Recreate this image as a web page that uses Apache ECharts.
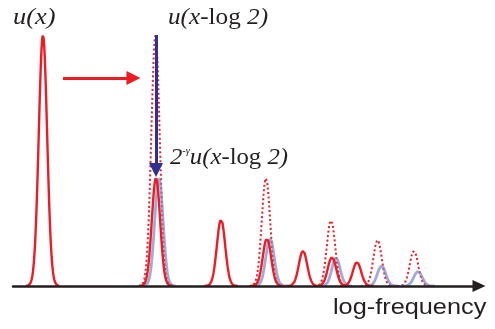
<!DOCTYPE html>
<html>
<head>
<meta charset="utf-8">
<script src="https://cdn.jsdelivr.net/npm/echarts@6/dist/echarts.min.js"></script>
<style>
  html, body { margin: 0; padding: 0; background: #fff; }
  #chart { width: 495px; height: 329px; }
</style>
</head>
<body>
<div id="chart"></div>
<script>
// peak centres (log-frequency) and heights
const harmonicPos = [0, 0.702, 1.106, 1.391, 1.615, 1.795, 1.95];
const harmonicAmp = [1.0, 0.43, 0.265, 0.19, 0.14, 0.115, 0.095];
const shiftedPos = [0.699, 1.385, 1.789, 2.078, 2.304];
const shiftedAmp = [1.0, 0.43, 0.263, 0.183, 0.141];
const scaledPos = [0.72, 1.41, 1.82, 2.103, 2.329];
const scaledAmp = [0.43, 0.19, 0.112, 0.08, 0.058];
const peakWidth = 0.026;

// annotation arrows [x0, y0, x1, y1]
const shiftArrow = [0.124, 0.829, 0.562, 0.829];
const scaleArrow = [0.702, 1.0, 0.702, 0.462];

const RED = "#ed1c24";
const NAVY = "#2e3192";
const BLUE = "rgba(128, 134, 200, 0.72)";

// each peak is drawn as a bell shape, broken apart by nulls
const peakLine = (centres, amps) => {
  const pts = [];
  centres.forEach((c, i) => {
    for (let x = c - 4 * peakWidth; x <= c + 4 * peakWidth + 1e-9; x += 0.002) {
      const d = (x - c) / peakWidth;
      pts.push([x, amps[i] * Math.exp(-0.5 * d * d)]);
    }
    pts.push([c + 4 * peakWidth + 0.001, null]);
  });
  return pts;
};

const arrowSeries = (coords, color) => ({
  type: "line",
  data: [],
  z: 6,
  markLine: {
    silent: true,
    animation: false,
    symbol: ["none", "triangle"],
    symbolSize: [14, 14],
    label: { show: false },
    itemStyle: { color },
    lineStyle: { color, width: 3, type: "solid" },
    data: [[{ coord: [coords[0], coords[1]] }, { coord: [coords[2], coords[3]] }]],
  },
});

const chart = echarts.init(document.getElementById("chart"));

const serif = '"Liberation Serif", "DejaVu Serif", serif';

chart.setOption({
  animation: false,
  grid: { left: 13, right: 16, top: 35, bottom: 43 },
  xAxis: {
    type: "value",
    min: -0.186,
    max: 2.708,
    z: 5,
    axisLine: {
      symbol: ["none", "triangle"],
      symbolSize: [12, 13],
      lineStyle: { color: "#231f20", width: 2.5 },
    },
    axisTick: { show: false },
    axisLabel: { show: false },
    splitLine: { show: false },
  },
  yAxis: { type: "value", min: 0, max: 1, show: false },
  series: [
    {
      name: "u(x-log 2)",
      type: "line",
      data: peakLine(shiftedPos, shiftedAmp),
      showSymbol: false,
      connectNulls: false,
      z: 2,
      lineStyle: { color: RED, width: 2, type: [2, 2.5] },
    },
    {
      name: "2^-γ u(x-log 2)",
      type: "line",
      data: peakLine(scaledPos, scaledAmp),
      showSymbol: false,
      connectNulls: false,
      z: 3,
      lineStyle: { color: BLUE, width: 2.8 },
    },
    {
      name: "u(x)",
      type: "line",
      data: peakLine(harmonicPos, harmonicAmp),
      showSymbol: false,
      connectNulls: false,
      z: 4,
      lineStyle: { color: RED, width: 2.4 },
    },
    arrowSeries(shiftArrow, RED),
    arrowSeries(scaleArrow, NAVY),
  ],
  graphic: [
    {
      type: "text",
      left: 13,
      top: 6,
      scaleX: 1.1,
      style: {
        text: "{i|u(x)}",
        rich: { i: { font: `italic 24px ${serif}`, fill: "#231f20" } },
      },
    },
    {
      type: "text",
      left: 168,
      top: 6,
      scaleX: 1.05,
      style: {
        text: "{i|u(x}{r|-log }{i|2)}",
        rich: {
          i: { font: `italic 24px ${serif}`, fill: "#231f20" },
          r: { font: `24px ${serif}`, fill: "#231f20" },
        },
      },
    },
    {
      type: "text",
      left: 170,
      top: 146,
      scaleX: 1.03,
      style: {
        text: "{i|2}{s|-γ}{i|u(x}{r|-log }{i|2)}",
        rich: {
          i: { font: `italic 24px ${serif}`, fill: "#231f20" },
          r: { font: `24px ${serif}`, fill: "#231f20" },
          s: { font: `italic 10px ${serif}`, fill: "#231f20", verticalAlign: "top" },
        },
      },
    },
    {
      type: "text",
      left: 333,
      top: 297,
      scaleX: 1.15,
      style: {
        text: "log-frequency",
        font: '22px "Liberation Sans", Arial, sans-serif',
        fill: "#231f20",
      },
    },
  ],
});
</script>
</body>
</html>
